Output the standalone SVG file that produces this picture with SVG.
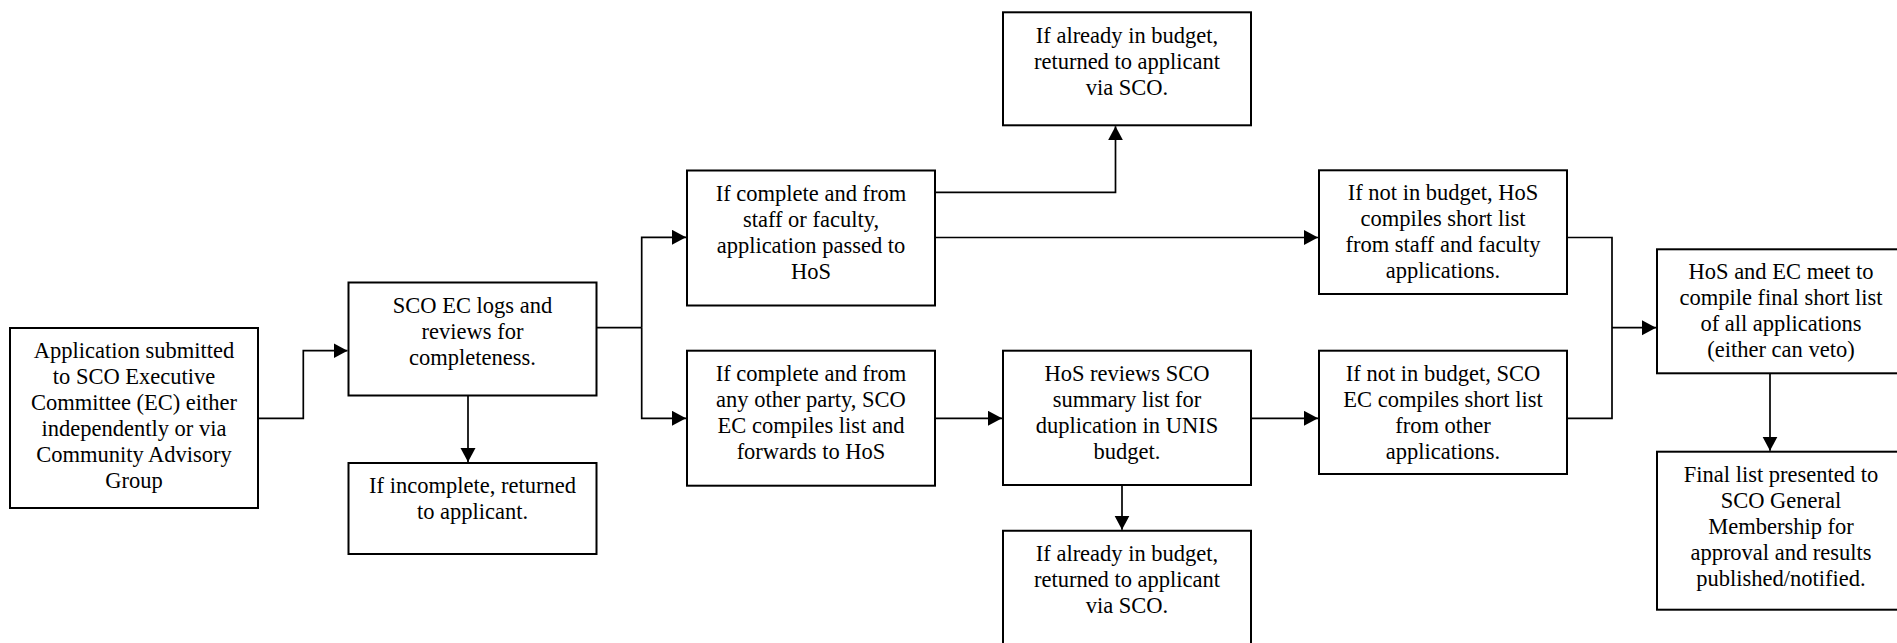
<svg xmlns="http://www.w3.org/2000/svg" width="1897" height="643" viewBox="0 0 1897 643">
<style>
.box{fill:#fff;stroke:#000;stroke-width:2}
.open{fill:none;stroke:#000;stroke-width:2}
.c{fill:none;stroke:#000;stroke-width:1.7}
text{font-family:"Liberation Serif","Times New Roman",serif;font-size:22.5px;fill:#000;text-anchor:middle}
</style>
<defs>
<marker id="arr" markerUnits="userSpaceOnUse" markerWidth="15" markerHeight="16" refX="14" refY="7.5" orient="auto">
<path d="M0,0 L14,7.5 L0,15 Z" fill="#000"/>
</marker>
</defs>
<rect width="1897" height="643" fill="#fff"/>
<g id="connectors">
<path class="c" d="M258,418.3 H303.3 V350.7 H347.5" marker-end="url(#arr)"/>
<path class="c" d="M468,396 V462" marker-end="url(#arr)"/>
<path class="c" d="M596.5,327.7 H641.7"/>
<path class="c" d="M641.7,327.7 V237.3 H686" marker-end="url(#arr)"/>
<path class="c" d="M641.7,327.7 V418.3 H686" marker-end="url(#arr)"/>
<path class="c" d="M935,192.3 H1115.5 V126.3" marker-end="url(#arr)"/>
<path class="c" d="M935,237.5 H1318" marker-end="url(#arr)"/>
<path class="c" d="M935,418.3 H1002" marker-end="url(#arr)"/>
<path class="c" d="M1122,485 V529.7" marker-end="url(#arr)"/>
<path class="c" d="M1251,418.3 H1318" marker-end="url(#arr)"/>
<path class="c" d="M1567,237.5 H1612 V418.3 H1567"/>
<path class="c" d="M1612,327.7 H1656" marker-end="url(#arr)"/>
<path class="c" d="M1770,373.3 V450.7" marker-end="url(#arr)"/>
</g>
<g id="nodeA">
<rect class="box" x="10" y="328" width="248" height="180"/>
<text x="134" y="358">Application submitted</text>
<text x="134" y="384">to SCO Executive</text>
<text x="134" y="410">Committee (EC) either</text>
<text x="134" y="436">independently or via</text>
<text x="134" y="462">Community Advisory</text>
<text x="134" y="488">Group</text>
</g>
<g id="nodeB">
<rect class="box" x="348.5" y="282.5" width="248" height="113"/>
<text x="472.5" y="313">SCO EC logs and</text>
<text x="472.5" y="339">reviews for</text>
<text x="472.5" y="365">completeness.</text>
</g>
<g id="nodeC">
<rect class="box" x="348.5" y="463" width="248" height="91"/>
<text x="472.5" y="493">If incomplete, returned</text>
<text x="472.5" y="519">to applicant.</text>
</g>
<g id="nodeD">
<rect class="box" x="687" y="170.5" width="248" height="135"/>
<text x="811" y="201">If complete and from</text>
<text x="811" y="227">staff or faculty,</text>
<text x="811" y="253">application passed to</text>
<text x="811" y="279">HoS</text>
</g>
<g id="nodeE">
<rect class="box" x="687" y="350.7" width="248" height="135"/>
<text x="811" y="381">If complete and from</text>
<text x="811" y="407">any other party, SCO</text>
<text x="811" y="433">EC compiles list and</text>
<text x="811" y="459">forwards to HoS</text>
</g>
<g id="nodeF">
<rect class="box" x="1003" y="12.3" width="248" height="113"/>
<text x="1127" y="43">If already in budget,</text>
<text x="1127" y="69">returned to applicant</text>
<text x="1127" y="95">via SCO.</text>
</g>
<g id="nodeG">
<rect class="box" x="1003" y="350.7" width="248" height="134.3"/>
<text x="1127" y="381">HoS reviews SCO</text>
<text x="1127" y="407">summary list for</text>
<text x="1127" y="433">duplication in UNIS</text>
<text x="1127" y="459">budget.</text>
</g>
<g id="nodeH">
<path class="open" d="M1003,643 V530.7 H1251 V643"/>
<text x="1127" y="561">If already in budget,</text>
<text x="1127" y="587">returned to applicant</text>
<text x="1127" y="613">via SCO.</text>
</g>
<g id="nodeI">
<rect class="box" x="1319" y="170.3" width="248" height="123.7"/>
<text x="1443" y="200">If not in budget, HoS</text>
<text x="1443" y="226">compiles short list</text>
<text x="1443" y="252">from staff and faculty</text>
<text x="1443" y="278">applications.</text>
</g>
<g id="nodeJ">
<rect class="box" x="1319" y="350.7" width="248" height="123.3"/>
<text x="1443" y="381">If not in budget, SCO</text>
<text x="1443" y="407">EC compiles short list</text>
<text x="1443" y="433">from other</text>
<text x="1443" y="459">applications.</text>
</g>
<g id="nodeK">
<rect class="box" x="1657" y="249.3" width="248" height="124"/>
<text x="1781" y="279">HoS and EC meet to</text>
<text x="1781" y="305">compile final short list</text>
<text x="1781" y="331">of all applications</text>
<text x="1781" y="357">(either can veto)</text>
</g>
<g id="nodeL">
<rect class="box" x="1657" y="451.7" width="248" height="158"/>
<text x="1781" y="482">Final list presented to</text>
<text x="1781" y="508">SCO General</text>
<text x="1781" y="534">Membership for</text>
<text x="1781" y="560">approval and results</text>
<text x="1781" y="586">published/notified.</text>
</g>
</svg>
